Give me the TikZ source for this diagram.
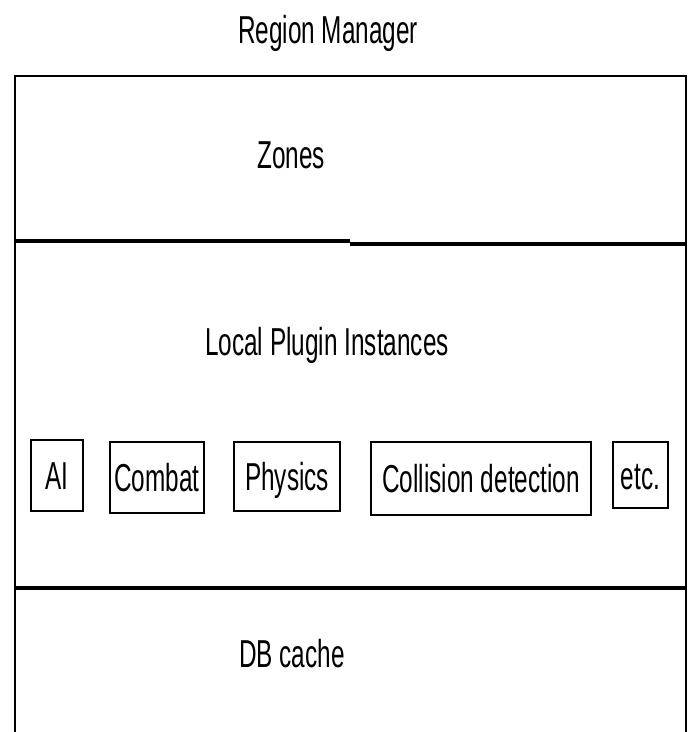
\documentclass[tikz,border=0pt]{standalone}
\usepackage{fontspec}
\setmainfont{Liberation Sans}[FakeStretch=0.625]
\begin{document}
\begin{tikzpicture}[x=0.025cm,y=-0.025cm,
  every node/.style={font=\fontsize{27.7}{30}\selectfont},
  lbl/.style={anchor=base},
  pbox/.style={draw,line width=2pt,inner sep=0pt,text height=0.7cm,text depth=0pt}]
\useasboundingbox (0,0) rectangle (688,732);
% outer frame, open at the bottom
\draw[line width=1.8pt] (15,732) -- (15,76) -- (686,76) -- (686,732);
% layer borders
\draw[line width=2.6pt] (14,241) -- (350,241);
\draw[line width=2.6pt] (350,244) -- (686,244);
\draw[line width=2.6pt] (14,588) -- (686,588);
% layer names
\node[lbl] (title) at (328,43) {Region Manager};
\node[lbl] (zones) at (291,168) {Zones};
\node[lbl] (local) at (327,355) {Local Plugin Instances};
\node[lbl] (dbcache) at (292,667) {DB cache};
% plugin boxes
\def\pl#1#2#3#4#5#6{
\node[pbox,minimum width=#4*0.025cm,minimum height=#5*0.025cm] (#1) at (#2,#3) {#6};
}
\pl{ai}{57}{475.5}{52}{71}{AI}
\pl{combat}{157}{477.5}{94}{71}{Combat}
\pl{physics}{287}{476.5}{106}{69}{Physics}
\pl{collision}{481}{478.5}{220}{73}{Collision detection}
\pl{etcbox}{640.5}{475}{55}{66}{etc.}
\end{tikzpicture}
\end{document}
